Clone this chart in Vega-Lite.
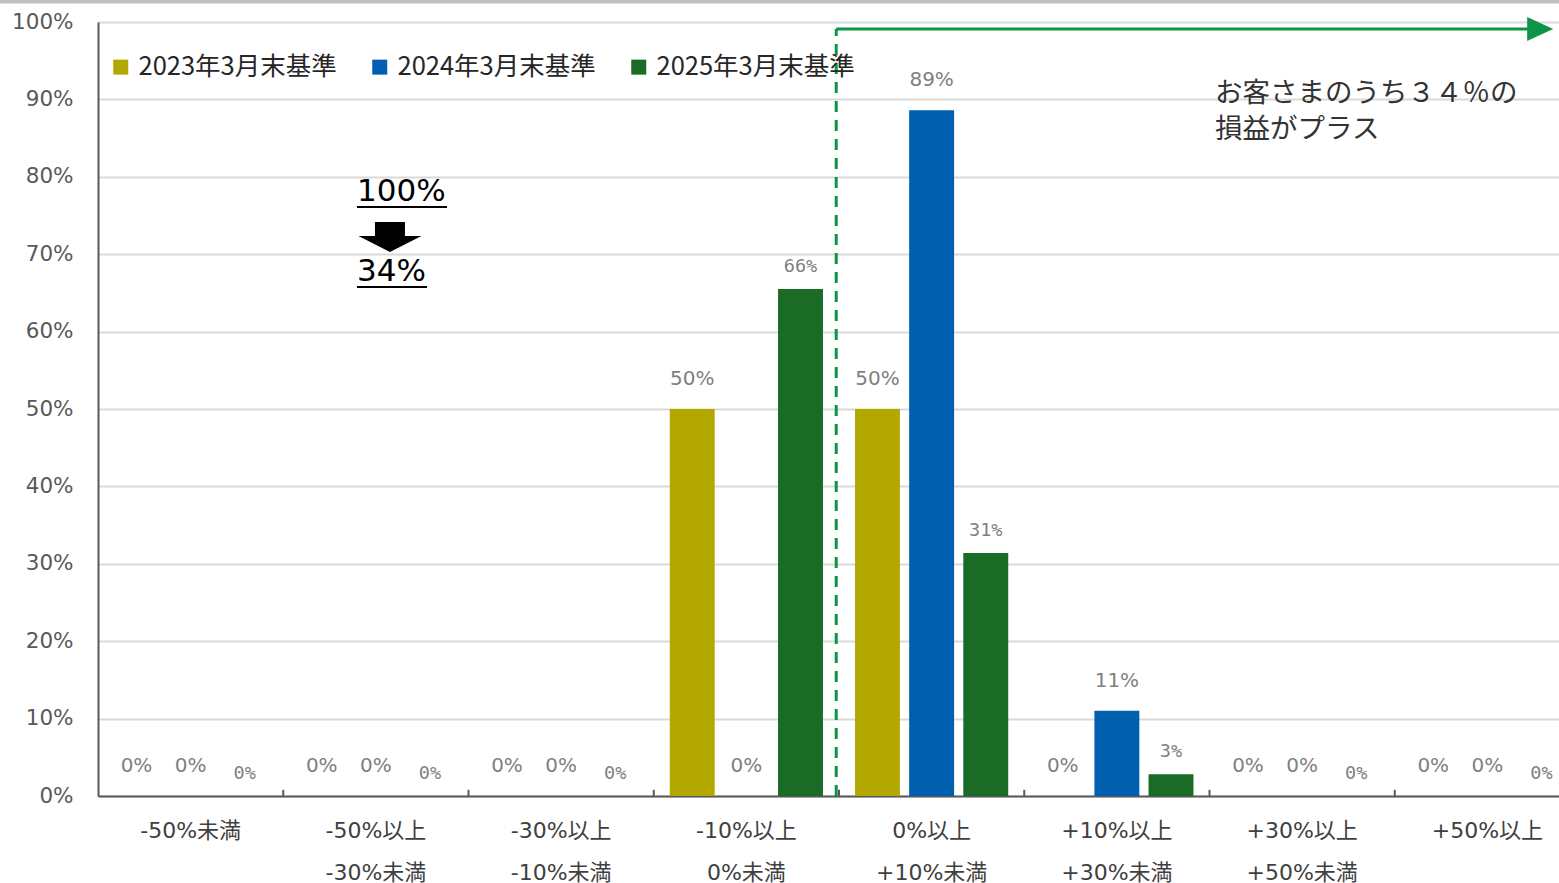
{
  "$schema": "https://vega.github.io/schema/vega-lite/v6.json",
  "width": 1461,
  "height": 774,
  "autosize": "none",
  "padding": {"left": 98, "top": 22, "right": 0, "bottom": 87},
  "background": "white",
  "config": {"view": {"stroke": null}},
  "datasets": {
    "bars": [
      {"cat": "-50%未満", "series": "2023年3月末基準", "value": 0, "label": "0%"},
      {"cat": "-50%未満", "series": "2024年3月末基準", "value": 0, "label": "0%"},
      {"cat": "-50%未満", "series": "2025年3月末基準", "value": 0, "label": "0%"},
      {"cat": "-50%以上 -30%未満", "series": "2023年3月末基準", "value": 0, "label": "0%"},
      {"cat": "-50%以上 -30%未満", "series": "2024年3月末基準", "value": 0, "label": "0%"},
      {"cat": "-50%以上 -30%未満", "series": "2025年3月末基準", "value": 0, "label": "0%"},
      {"cat": "-30%以上 -10%未満", "series": "2023年3月末基準", "value": 0, "label": "0%"},
      {"cat": "-30%以上 -10%未満", "series": "2024年3月末基準", "value": 0, "label": "0%"},
      {"cat": "-30%以上 -10%未満", "series": "2025年3月末基準", "value": 0, "label": "0%"},
      {"cat": "-10%以上 0%未満", "series": "2023年3月末基準", "value": 50, "label": "50%"},
      {"cat": "-10%以上 0%未満", "series": "2024年3月末基準", "value": 0, "label": "0%"},
      {"cat": "-10%以上 0%未満", "series": "2025年3月末基準", "value": 65.5, "label": "66%"},
      {"cat": "0%以上 +10%未満", "series": "2023年3月末基準", "value": 50, "label": "50%"},
      {"cat": "0%以上 +10%未満", "series": "2024年3月末基準", "value": 88.6, "label": "89%"},
      {"cat": "0%以上 +10%未満", "series": "2025年3月末基準", "value": 31.4, "label": "31%"},
      {"cat": "+10%以上 +30%未満", "series": "2023年3月末基準", "value": 0, "label": "0%"},
      {"cat": "+10%以上 +30%未満", "series": "2024年3月末基準", "value": 11, "label": "11%"},
      {"cat": "+10%以上 +30%未満", "series": "2025年3月末基準", "value": 2.8, "label": "3%"},
      {"cat": "+30%以上 +50%未満", "series": "2023年3月末基準", "value": 0, "label": "0%"},
      {"cat": "+30%以上 +50%未満", "series": "2024年3月末基準", "value": 0, "label": "0%"},
      {"cat": "+30%以上 +50%未満", "series": "2025年3月末基準", "value": 0, "label": "0%"},
      {"cat": "+50%以上", "series": "2023年3月末基準", "value": 0, "label": "0%"},
      {"cat": "+50%以上", "series": "2024年3月末基準", "value": 0, "label": "0%"},
      {"cat": "+50%以上", "series": "2025年3月末基準", "value": 0, "label": "0%"}
    ],
    "notes": [
      {"kind": "band", "xq": -0.53, "xq2": 7.9, "yq": 102.65},
      {"kind": "tick", "xq": 1, "yq": 0, "yq2": 0.8},
      {"kind": "tick", "xq": 2, "yq": 0, "yq2": 0.8},
      {"kind": "tick", "xq": 3, "yq": 0, "yq2": 0.8},
      {"kind": "tick", "xq": 4, "yq": 0, "yq2": 0.8},
      {"kind": "tick", "xq": 5, "yq": 0, "yq2": 0.8},
      {"kind": "tick", "xq": 6, "yq": 0, "yq2": 0.8},
      {"kind": "tick", "xq": 7, "yq": 0, "yq2": 0.8},
      {"kind": "dash", "xq": 3.985, "yq": 0, "yq2": 99.1},
      {"kind": "arrowline", "xq": 3.985, "xq2": 7.72, "yq": 99.1},
      {"kind": "arrowhead", "xq": 7.785, "yq": 99.1},
      {"kind": "note", "xq": 6.03, "yq": 90.7, "text": "お客さまのうち３４％の"},
      {"kind": "note", "xq": 6.03, "yq": 86.04, "text": "損益がプラス"},
      {"kind": "big", "xq": 1.398, "yq": 78.04, "text": "100%"},
      {"kind": "big", "xq": 1.398, "yq": 67.7, "text": "34%"},
      {"kind": "underline", "xq": 1.398, "xq2": 1.884, "yq": 76.1},
      {"kind": "underline", "xq": 1.398, "xq2": 1.776, "yq": 65.76},
      {"kind": "downarrow", "xq": 1.576, "yq": 72.22}
    ]
  },
  "layer": [
    {
      "data": {"name": "bars"},
      "encoding": {
        "x": {
          "field": "cat", "type": "nominal", "sort": null, "title": null,
          "scale": {"range": [0, 1482], "paddingInner": 0.173, "paddingOuter": 0.0865},
          "axis": {
            "labelExpr": "datum.value ? split(datum.value, ' ') : ''",
            "labelFont": "DejaVu Sans, Noto Sans CJK JP",
            "labelFontSize": 22,
            "labelColor": "#404040",
            "labelLineHeight": 42,
            "labelPadding": 24,
            "labelAngle": 0,
            "labelLimit": 300,
            "ticks": false,
            "domainColor": "#595959",
            "domainWidth": 2,
            "grid": false
          }
        },
        "xOffset": {
          "field": "series", "type": "nominal",
          "sort": ["2023年3月末基準", "2024年3月末基準", "2025年3月末基準"],
          "scale": {"paddingInner": 0.17, "paddingOuter": 0}
        },
        "y": {
          "field": "value", "type": "quantitative", "title": null,
          "scale": {"domain": [0, 100], "nice": false, "zero": true},
          "axis": {
            "values": [0, 10, 20, 30, 40, 50, 60, 70, 80, 90, 100],
            "labelExpr": "datum.value + '%'",
            "labelFont": "DejaVu Sans",
            "labelFontSize": 21.5,
            "labelColor": "#595959",
            "labelPadding": 25,
            "ticks": false,
            "grid": true,
            "gridColor": "#D9D9D9",
            "gridWidth": 2,
            "domainColor": "#595959",
            "domainWidth": 2
          }
        }
      },
      "layer": [
        {
          "mark": {"type": "bar"},
          "encoding": {
            "color": {
              "field": "series", "type": "nominal",
              "scale": {
                "domain": ["2023年3月末基準", "2024年3月末基準", "2025年3月末基準"],
                "range": ["#B3A800", "#0060AF", "#1A6B25"]
              },
              "legend": {
                "title": null,
                "orient": "none",
                "legendX": 10,
                "legendY": 32,
                "direction": "horizontal",
                "symbolType": "square",
                "symbolSize": 225,
                "symbolStrokeWidth": 0,
                "labelFont": "Noto Sans CJK JP",
                "labelFontSize": 25.5,
                "labelColor": "#262626",
                "labelOffset": 5,
                "columnPadding": 30,
                "labelLimit": 400,
                "padding": 0
              }
            }
          }
        },
        {
          "transform": [{"filter": "datum.series !== '2025年3月末基準'"}],
          "mark": {"type": "text", "font": "DejaVu Sans", "fontSize": 20, "fill": "#7F7F7F", "baseline": "alphabetic", "dy": -24},
          "encoding": {"text": {"field": "label"}}
        },
        {
          "transform": [{"filter": "datum.series === '2025年3月末基準'"}],
          "mark": {"type": "text", "font": "DejaVu Sans Mono", "fontSize": 18.5, "letterSpacing": 2, "fill": "#808080", "baseline": "alphabetic", "dy": -17},
          "encoding": {"text": {"field": "label"}}
        }
      ]
    },
    {
      "data": {"name": "notes"},
      "encoding": {
        "x": {"field": "xq", "type": "quantitative", "title": null, "axis": null,
              "scale": {"domain": [0, 8], "range": [0, 1482], "nice": false, "zero": false}},
        "y": {"field": "yq", "type": "quantitative", "title": null,
              "scale": {"domain": [0, 100], "nice": false, "zero": true}}
      },
      "layer": [
        {
          "transform": [{"filter": "datum.kind === 'band'"}],
          "mark": {"type": "rule", "stroke": "#BFBFBF", "strokeWidth": 4},
          "encoding": {"x2": {"field": "xq2"}}
        },
        {
          "transform": [{"filter": "datum.kind === 'tick'"}],
          "mark": {"type": "rule", "stroke": "#595959", "strokeWidth": 2},
          "encoding": {"y2": {"field": "yq2"}}
        },
        {
          "transform": [{"filter": "datum.kind === 'dash'"}],
          "mark": {"type": "rule", "stroke": "#0E9447", "strokeWidth": 3, "strokeDash": [11, 8]},
          "encoding": {"y2": {"field": "yq2"}}
        },
        {
          "transform": [{"filter": "datum.kind === 'arrowline'"}],
          "mark": {"type": "rule", "stroke": "#0E9447", "strokeWidth": 3},
          "encoding": {"x2": {"field": "xq2"}}
        },
        {
          "transform": [{"filter": "datum.kind === 'arrowhead'"}],
          "mark": {"type": "point", "shape": "M-1,-0.92L1,0L-1,0.92Z", "size": 676, "filled": true, "fill": "#0E9447", "opacity": 1, "strokeWidth": 0},
          "encoding": {}
        },
        {
          "transform": [{"filter": "datum.kind === 'note'"}],
          "mark": {"type": "text", "font": "Noto Sans CJK JP", "fontSize": 27.5, "fill": "#333333", "align": "left", "baseline": "middle"},
          "encoding": {"text": {"field": "text"}}
        },
        {
          "transform": [{"filter": "datum.kind === 'big'"}],
          "mark": {"type": "text", "font": "DejaVu Sans", "fontSize": 31, "fill": "#000000", "align": "left", "baseline": "middle"},
          "encoding": {"text": {"field": "text"}}
        },
        {
          "transform": [{"filter": "datum.kind === 'underline'"}],
          "mark": {"type": "rule", "stroke": "#000000", "strokeWidth": 2},
          "encoding": {"x2": {"field": "xq2"}}
        },
        {
          "transform": [{"filter": "datum.kind === 'downarrow'"}],
          "mark": {"type": "point", "shape": "M-0.476,-0.476L0.476,-0.476L0.476,-0.03L1,-0.03L0,0.476L-1,-0.03L-0.476,-0.03Z", "size": 3969, "filled": true, "fill": "#000000", "opacity": 1, "strokeWidth": 0},
          "encoding": {}
        }
      ]
    }
  ],
  "resolve": {"scale": {"x": "independent"}, "axis": {"x": "independent"}}
}
